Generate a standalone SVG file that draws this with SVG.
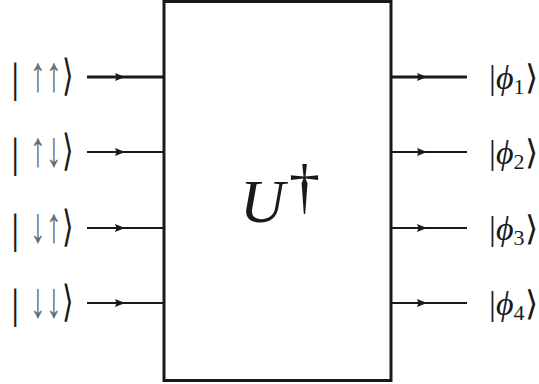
<svg xmlns="http://www.w3.org/2000/svg" width="539" height="384" viewBox="0 0 539 384">
<style>
.w{stroke:#1a1a1a;stroke-width:2;fill:none}
text{font-family:'Liberation Serif','Times New Roman',serif;fill:#1a1a1a}
.ar{fill:#6b6b6b;font-size:40px}
.big{font-size:42px}
.ang{font-size:30px}
.lab{font-size:34px}
</style>
<defs>
<marker id="m" viewBox="0 0 10 8" refX="5" refY="4" markerWidth="11" markerHeight="8" markerUnits="userSpaceOnUse" orient="auto"><path d="M0,0 L10,4 L0,8 L1.5,4 Z" fill="#1a1a1a"/></marker>
</defs>
<g id="connectors">
<path class="w" style="stroke-width:3" d="M87,77 H120 H164" marker-mid="url(#m)"/>
<path class="w" d="M87,152 H120 H164" marker-mid="url(#m)"/>
<path class="w" d="M87,228 H120 H164" marker-mid="url(#m)"/>
<path class="w" d="M87,303 H120 H164" marker-mid="url(#m)"/>
<path class="w" style="stroke-width:3" d="M391,77 H422 H467" marker-mid="url(#m)"/>
<path class="w" d="M391,152 H422 H467" marker-mid="url(#m)"/>
<path class="w" d="M391,228 H422 H467" marker-mid="url(#m)"/>
<path class="w" d="M391,303 H422 H467" marker-mid="url(#m)"/>
</g>
<g id="U">
<rect x="164" y="1.5" width="227" height="379" fill="none" stroke="#1a1a1a" stroke-width="3"/>
<text x="240" y="222" font-size="62" font-style="italic">U</text>
<text x="289" y="207" font-size="62">†</text>
</g>
<g id="in1"><text class="big" x="11" y="92">|</text><text class="ar" transform="translate(30,91) scale(0.8,1.25)">↑↑</text><text class="ang" transform="translate(62,90) scale(1,1.45)">⟩</text></g>
<g id="in2"><text class="big" x="11" y="167">|</text><text class="ar" transform="translate(30,166) scale(0.8,1.25)">↑↓</text><text class="ang" transform="translate(62,165) scale(1,1.45)">⟩</text></g>
<g id="in3"><text class="big" x="11" y="243">|</text><text class="ar" transform="translate(30,242) scale(0.8,1.25)">↓↑</text><text class="ang" transform="translate(62,241) scale(1,1.45)">⟩</text></g>
<g id="in4"><text class="big" x="11" y="318">|</text><text class="ar" transform="translate(30,317) scale(0.8,1.25)">↓↓</text><text class="ang" transform="translate(62,316) scale(1,1.45)">⟩</text></g>
<g id="out1"><text class="lab" x="489" y="89">|<tspan font-style="italic" x="496">ϕ</tspan><tspan font-size="22" dy="5">1</tspan><tspan dy="-5">⟩</tspan></text></g>
<g id="out2"><text class="lab" x="489" y="164">|<tspan font-style="italic" x="496">ϕ</tspan><tspan font-size="22" dy="5">2</tspan><tspan dy="-5">⟩</tspan></text></g>
<g id="out3"><text class="lab" x="489" y="240">|<tspan font-style="italic" x="496">ϕ</tspan><tspan font-size="22" dy="5">3</tspan><tspan dy="-5">⟩</tspan></text></g>
<g id="out4"><text class="lab" x="489" y="315">|<tspan font-style="italic" x="496">ϕ</tspan><tspan font-size="22" dy="5">4</tspan><tspan dy="-5">⟩</tspan></text></g>
</svg>
